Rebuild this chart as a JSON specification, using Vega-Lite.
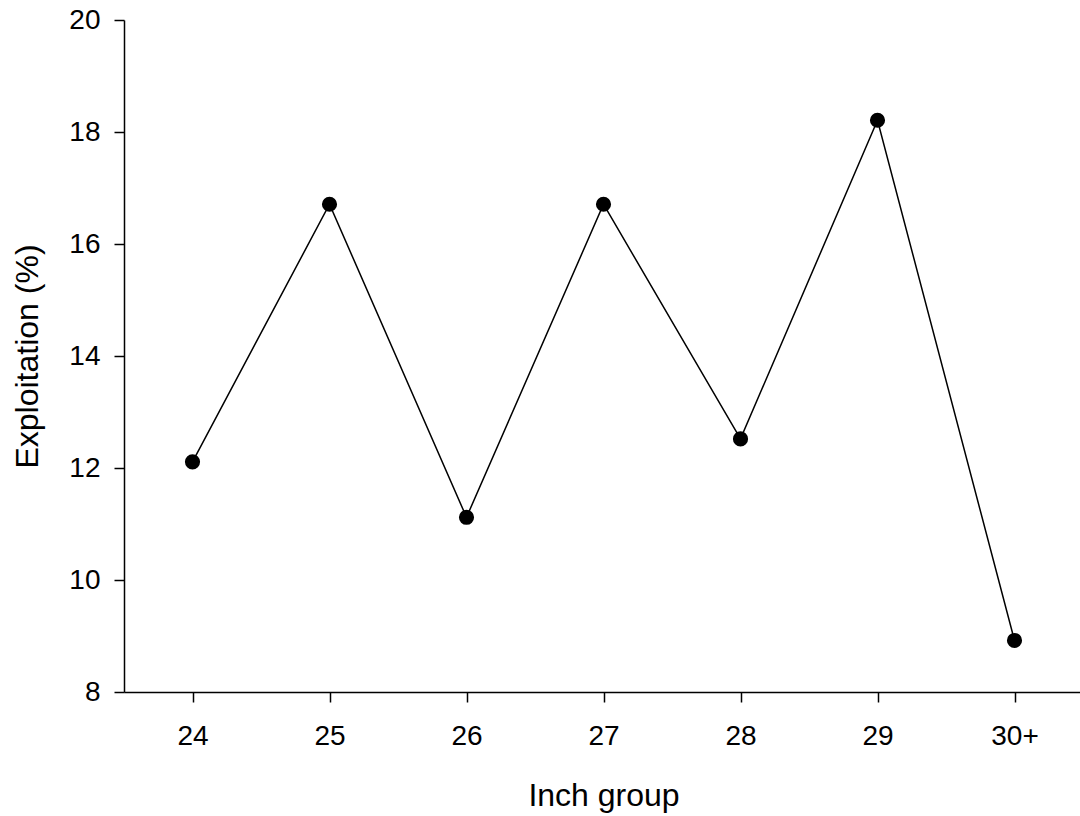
{
  "$schema": "https://vega.github.io/schema/vega-lite/v6.json",
  "autosize": {"type": "none"},
  "padding": {"left": 124, "top": 20, "right": 0, "bottom": 124},
  "width": 959,
  "height": 672,
  "background": "white",
  "config": {
    "view": {"stroke": null},
    "font": "Liberation Sans",
    "axis": {
      "grid": false,
      "domainColor": "black",
      "domainWidth": 1.5,
      "tickColor": "black",
      "tickWidth": 1.5,
      "tickSize": 10,
      "labelColor": "black",
      "labelFont": "Liberation Sans",
      "labelFontSize": 28,
      "titleFont": "Liberation Sans",
      "titleFontSize": 32,
      "titleFontWeight": "normal",
      "titleColor": "black"
    }
  },
  "data": {
    "values": [
      {"group": "24", "exploitation": 12.11},
      {"group": "25", "exploitation": 16.71},
      {"group": "26", "exploitation": 11.12},
      {"group": "27", "exploitation": 16.71},
      {"group": "28", "exploitation": 12.52},
      {"group": "29", "exploitation": 18.21},
      {"group": "30+", "exploitation": 8.92}
    ]
  },
  "encoding": {
    "x": {
      "field": "group",
      "type": "ordinal",
      "sort": null,
      "scale": {"type": "point", "padding": 0.5},
      "axis": {"title": "Inch group", "labelAngle": 0, "labelPadding": 20, "titlePadding": 30}
    },
    "y": {
      "field": "exploitation",
      "type": "quantitative",
      "scale": {"domain": [8, 20], "nice": false, "zero": false},
      "axis": {"title": "Exploitation (%)", "values": [8, 10, 12, 14, 16, 18, 20], "labelPadding": 14, "titlePadding": 24}
    }
  },
  "layer": [
    {"mark": {"type": "line", "color": "black", "strokeWidth": 1.5}},
    {"mark": {"type": "point", "filled": true, "color": "black", "opacity": 1, "size": 230}}
  ]
}
